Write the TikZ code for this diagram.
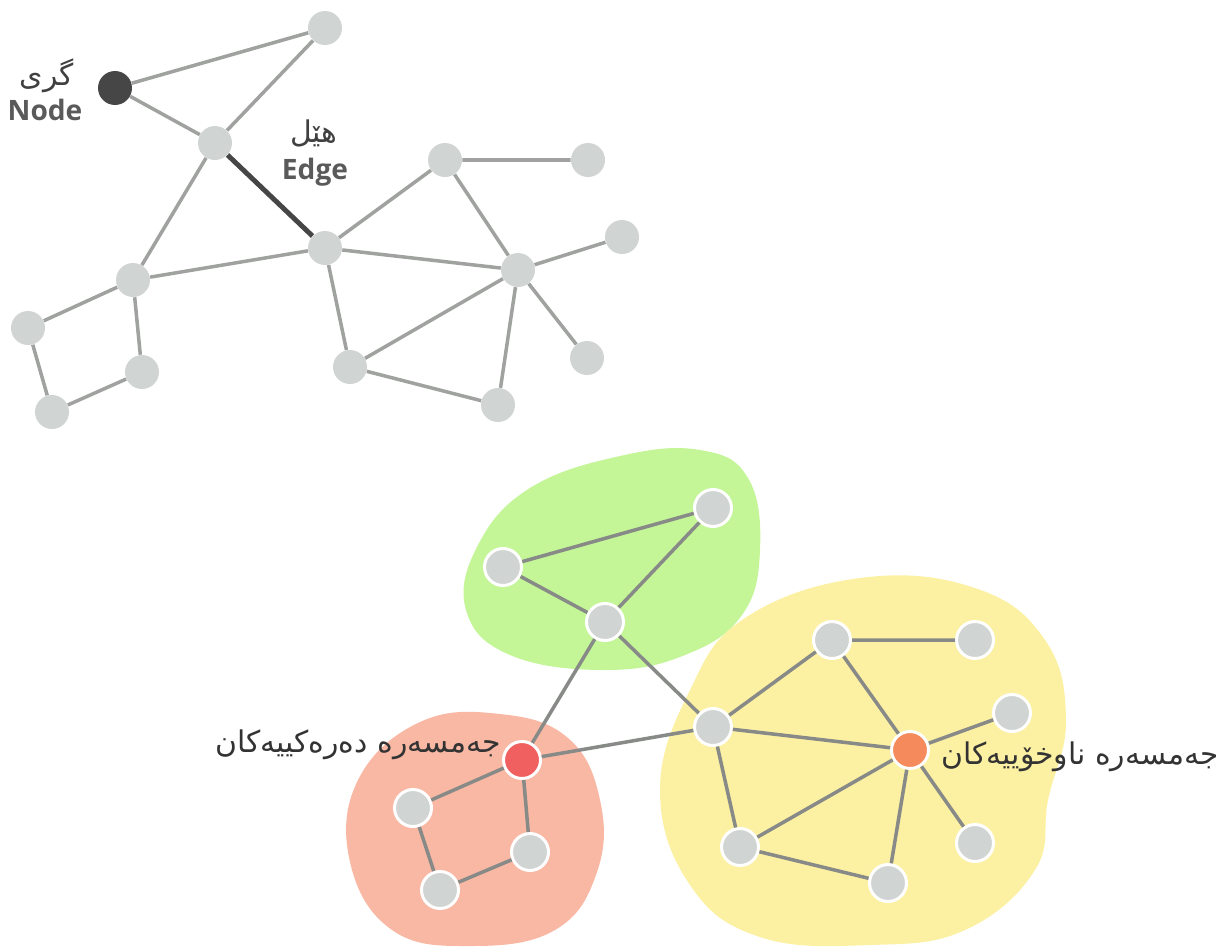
\documentclass[tikz,border=0pt]{standalone}
\usepackage{fontspec}
\newfontfamily\arabicfont[Script=Arabic]{DejaVu Sans}
\newfontfamily\labelfont{Open Sans}
\TeXXeTstate=1
\usetikzlibrary{calc}

\definecolor{vertexgray}{RGB}{208,212,210}
\definecolor{edgegray}{RGB}{160,162,160}
\definecolor{darknode}{RGB}{70,70,70}
\definecolor{blobgreen}{RGB}{196,246,152}
\definecolor{blobyellow}{RGB}{252,240,162}
\definecolor{blobred}{RGB}{249,184,164}
\definecolor{hubred}{RGB}{240,96,96}
\definecolor{huborange}{RGB}{245,138,92}
\definecolor{textgray}{RGB}{90,90,90}

\begin{document}
\begin{tikzpicture}[
    x=0.02cm, y=-0.02cm,
    vertex/.style={
        circle,
        fill=vertexgray,
        minimum size=0.68cm,
        inner sep=0pt
    },
    cvertex/.style={
        vertex,
        draw=white,
        line width=1.7pt,
        minimum size=0.74cm
    },
    hub/.style={
        cvertex,
        fill=#1
    },
    link/.style={
        draw=edgegray,
        line width=2pt
    },
    clink/.style={
        draw=edgegray!85!black,
        line width=2pt
    },
    caption/.style={
        text=textgray,
        font=\labelfont\bfseries\fontsize{16}{18}\selectfont
    },
    rtl/.style={
        text=black!80,
        font=\arabicfont\fontsize{17}{20}\selectfont
    }
]
\useasboundingbox (0,0) rectangle (1216,947);

% Communities
\fill[blobgreen] plot[smooth cycle, tension=0.7] coordinates
    {(466,610) (478,545) (530,488) (620,456) (700,450) (748,478) (760,550) (742,615) (685,655) (605,670) (510,655)};
\fill[blobyellow] plot[smooth cycle, tension=0.7] coordinates
    {(690,690) (745,618) (860,578) (975,588) (1045,640) (1066,720) (1048,800) (1035,870) (965,930) (870,945) (760,937) (690,885) (660,790)};
\fill[blobred] plot[smooth cycle, tension=0.7] coordinates
    {(358,780) (420,722) (500,714) (568,738) (600,800) (597,872) (555,930) (470,946) (392,930) (350,862)};

% Nodes (top graph)
\node [vertex] (n1) at (325,28) {};
\node [vertex, fill=darknode] (gd) at (115,88) {};
\node [vertex] (n2) at (215,143) {};
\node [vertex] (n3) at (445,160) {};
\node [vertex] (n4) at (588,160) {};
\node [vertex] (n5) at (325,248) {};
\node [vertex] (n6) at (622,237) {};
\node [vertex] (n7) at (518,270) {};
\node [vertex] (n8) at (133,280) {};
\node [vertex] (n9) at (28,328) {};
\node [vertex] (n10) at (142,372) {};
\node [vertex] (n11) at (350,367) {};
\node [vertex] (n12) at (587,358) {};
\node [vertex] (n13) at (52,412) {};
\node [vertex] (n14) at (498,405) {};

% Edges (top graph)
\path [link] (gd) -- (n1) (n1) -- (n2) (gd) -- (n2)
    (n2) -- (n8) (n8) -- (n5) (n5) -- (n3) (n3) -- (n4)
    (n3) -- (n7) (n5) -- (n7) (n7) -- (n6) (n5) -- (n11)
    (n7) -- (n11) (n7) -- (n14) (n7) -- (n12) (n11) -- (n14)
    (n8) -- (n9) (n8) -- (n10) (n9) -- (n13) (n13) -- (n10);
\draw [darknode, line width=2.8pt] (n2) -- (n5);

% Labels (top graph)
\node [rtl, text=black!75] (gdar) at (47,76) {\beginR گری\endR};
\node [caption] (gden) at (45,110) {Node};
\node [rtl, text=black!75] (edar) at (314,133) {\beginR هێل\endR};
\node [caption] (eden) at (315,172) {Edge};

% Nodes (communities)
\node [cvertex] (g1) at (713,508) {};
\node [cvertex] (g2) at (503,567) {};
\node [cvertex] (g3) at (605,622) {};
\node [cvertex] (y1) at (832,640) {};
\node [cvertex] (y2) at (975,640) {};
\node [cvertex] (y3) at (1012,713) {};
\node [cvertex] (y4) at (713,727) {};
\node [hub=huborange] (yh) at (910,750) {};
\node [cvertex] (y5) at (740,847) {};
\node [cvertex] (y6) at (975,843) {};
\node [cvertex] (y7) at (888,883) {};
\node [hub=hubred] (rh) at (522,760) {};
\node [cvertex] (r1) at (413,808) {};
\node [cvertex] (r2) at (530,852) {};
\node [cvertex] (r3) at (440,890) {};

% Edges (communities)
\path [clink] (g2) -- (g1) (g1) -- (g3) (g2) -- (g3)
    (g3) -- (rh) (g3) -- (y4) (rh) -- (y4)
    (rh) -- (r1) (rh) -- (r2) (r1) -- (r3) (r3) -- (r2)
    (y4) -- (y1) (y1) -- (y2) (y1) -- (yh) (y4) -- (yh)
    (y4) -- (y5) (yh) -- (y3) (yh) -- (y5) (yh) -- (y7)
    (yh) -- (y6) (y5) -- (y7);

% Hub labels
\node [rtl] (outer) at (358,745) {\beginR جەمسەرە دەرەکییەکان\endR};
\node [rtl] (inner) at (1080,757) {\beginR جەمسەرە ناوخۆییەکان\endR};

\end{tikzpicture}
\end{document}
